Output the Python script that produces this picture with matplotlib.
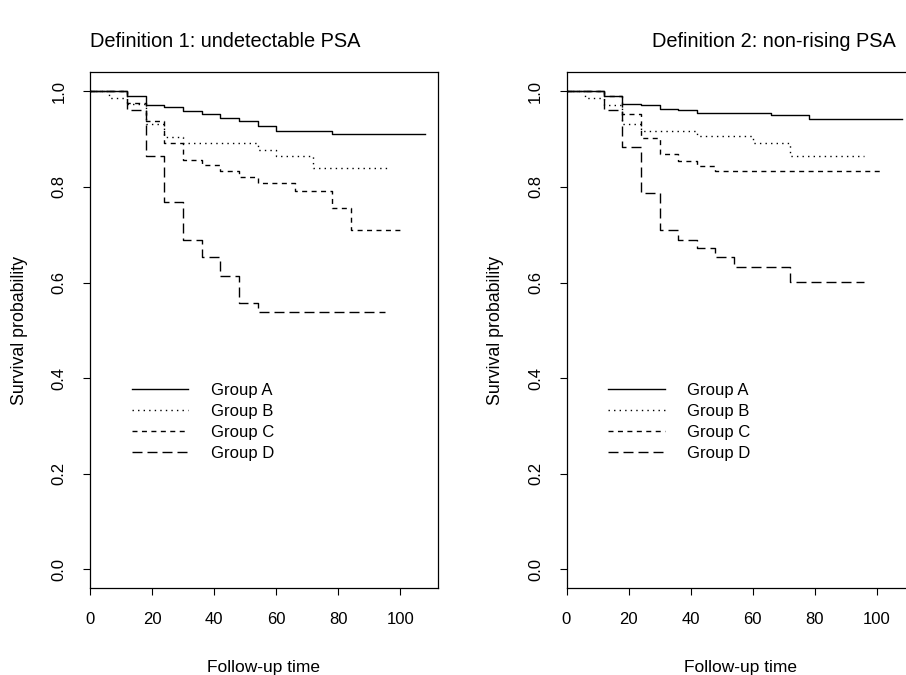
import matplotlib
matplotlib.use("Agg")
import matplotlib.pyplot as plt

plt.rcParams['font.family'] = ['Liberation Sans', 'DejaVu Sans']

# survival step curves (time in months, survival probability)
titles = ["Definition 1: undetectable PSA", "Definition 2: non-rising PSA"]
groups = ["Group A", "Group B", "Group C", "Group D"]

# Definition 1
d1_a_t = [0, 12, 18, 24, 30, 36, 42, 48, 54, 60, 78, 108]
d1_a_s = [1.0, 0.990, 0.971, 0.968, 0.958, 0.952, 0.945, 0.938, 0.927, 0.917, 0.910, 0.910]
d1_b_t = [0, 6, 12, 18, 24, 30, 54, 60, 72, 96]
d1_b_s = [1.0, 0.987, 0.973, 0.932, 0.904, 0.892, 0.878, 0.865, 0.839, 0.839]
d1_c_t = [0, 12, 18, 24, 30, 36, 42, 48, 54, 66, 78, 84, 101]
d1_c_s = [1.0, 0.975, 0.939, 0.892, 0.857, 0.845, 0.833, 0.820, 0.809, 0.792, 0.755, 0.710, 0.710]
d1_d_t = [0, 12, 18, 24, 30, 36, 42, 48, 54, 95]
d1_d_s = [1.0, 0.962, 0.864, 0.768, 0.690, 0.653, 0.614, 0.558, 0.539, 0.539]

# Definition 2
d2_a_t = [0, 12, 18, 24, 30, 36, 42, 66, 78, 108]
d2_a_s = [1.0, 0.990, 0.974, 0.971, 0.964, 0.961, 0.955, 0.951, 0.943, 0.943]
d2_b_t = [0, 6, 12, 18, 24, 42, 60, 72, 96]
d2_b_s = [1.0, 0.987, 0.972, 0.932, 0.918, 0.906, 0.893, 0.864, 0.864]
d2_c_t = [0, 12, 18, 24, 30, 36, 42, 48, 101]
d2_c_s = [1.0, 0.990, 0.952, 0.903, 0.868, 0.855, 0.843, 0.833, 0.833]
d2_d_t = [0, 12, 18, 24, 30, 36, 42, 48, 54, 72, 96]
d2_d_s = [1.0, 0.962, 0.883, 0.787, 0.710, 0.690, 0.672, 0.653, 0.633, 0.602, 0.602]

panels = [
    [(d1_a_t, d1_a_s), (d1_b_t, d1_b_s), (d1_c_t, d1_c_s), (d1_d_t, d1_d_s)],
    [(d2_a_t, d2_a_s), (d2_b_t, d2_b_s), (d2_c_t, d2_c_s), (d2_d_t, d2_d_s)],
]
styles = ['-', (0, (1, 3)), (0, (3.6, 3.2)), (0, (7.2, 3.6))]

xticks = [0, 20, 40, 60, 80, 100]
yticks = [0.0, 0.2, 0.4, 0.6, 0.8, 1.0]

fig = plt.figure(figsize=(9.06, 6.75), dpi=100)
lefts = [90 / 906, 566.5 / 906]
title_x = [0.0, 0.246]
for k in range(2):
    ax = fig.add_axes([lefts[k], 86.7 / 675, 347.5 / 906, 516 / 675])
    handles = []
    for (t, s), ls in zip(panels[k], styles):
        h, = ax.step(t, s, where='post', color='black', lw=1.0, linestyle=ls)
        handles.append(h)
    ax.set_xlim(0, 112)
    ax.set_ylim(-0.04, 1.04)
    ax.set_xticks(xticks)
    ax.set_xticklabels([str(v) for v in xticks])
    ax.set_yticks(yticks)
    ax.set_yticklabels(["%.1f" % v for v in yticks])
    ax.tick_params(direction='out', length=5, width=0.8, labelsize=12, pad=12)
    ax.tick_params(axis='y', labelrotation=90)
    for lab in ax.get_yticklabels():
        lab.set_va('center')
    for sp in ax.spines.values():
        sp.set_linewidth(0.9)
    ax.set_xlabel("Follow-up time", fontsize=12.5, labelpad=24)
    ax.set_ylabel("Survival probability", fontsize=12.8, labelpad=17)
    ax.set_title(titles[k], loc='left', fontsize=14.4, pad=18, x=title_x[k])
    ax.legend(handles, groups, loc='upper left', bbox_to_anchor=(13.4, 0.39),
              bbox_transform=ax.transData, frameon=False, fontsize=12,
              handlelength=3.4, handletextpad=1.36, labelspacing=0.36,
              borderpad=0, borderaxespad=0)

fig.savefig("out.png", dpi=100)
